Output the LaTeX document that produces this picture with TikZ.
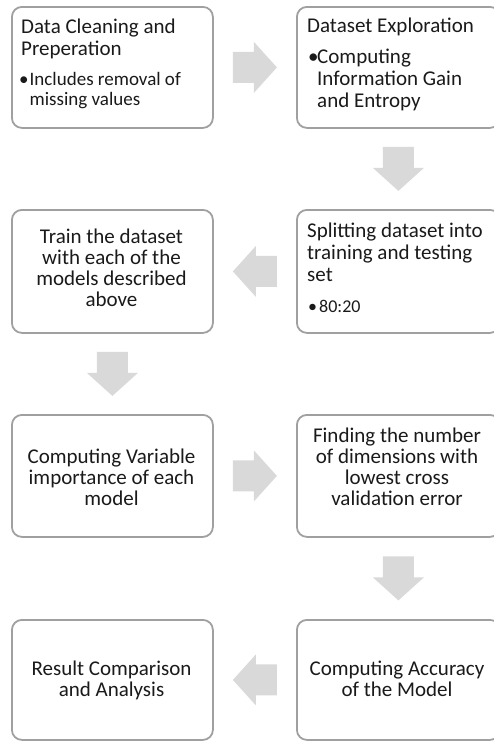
\documentclass[tikz,border=0pt]{standalone}
\usepackage{fontspec}
\setmainfont{Carlito}
\usetikzlibrary{calc}
\definecolor{boxline}{HTML}{A0A0A0}
\definecolor{arrowfill}{HTML}{D9D9D9}
\definecolor{txtcol}{HTML}{1A1A1A}
\newcommand\fmain{\fontsize{21}{21}\selectfont}
\newcommand\fleft{\fontsize{21}{22}\selectfont}
\newcommand\fsmall{\fontsize{19}{18}\selectfont}
\newcommand\fmid{\fontsize{18}{18}\selectfont}
\newcommand\blkarrow[2]{\fill[arrowfill,shift={(#1)},rotate=#2] (-22,-15.5) -- (-1,-15.5) -- (-1,-25.5) -- (22,0) -- (-1,25.5) -- (-1,15.5) -- (-22,15.5) -- cycle;}
\tikzset{
  box/.style={draw=boxline, line width=1.8pt, rounded corners=10pt, fill=white,
    anchor=north west, inner sep=0pt, minimum width=#1, minimum height=121pt},
  box/.default=201pt,
  ltxt/.style={anchor=north west, inner sep=0pt, align=left, text=txtcol, font=\fleft},
  ctxt/.style={anchor=north, inner sep=0pt, align=center, text=txtcol, font=\fmain}
}
\begin{document}
\begin{tikzpicture}[x=1pt,y=-1pt]
\useasboundingbox (0,0) rectangle (493,742);
% boxes
\node[box] (b1) at (11,6) {};
\node[box=203pt] (b2) at (296,6) {};
\node[box, minimum height=123pt] (b3) at (11,209) {};
\node[box=203pt, minimum height=123pt] (b4) at (296,209) {};
\node[box, minimum height=122pt] (b5) at (11,414) {};
\node[box=203pt, minimum height=122pt] (b6) at (296,414) {};
\node[box, minimum height=120pt] (b7) at (11,619) {};
\node[box=203pt, minimum height=120pt] (b8) at (296,619) {};
% texts
\node[ltxt] (t1) at (21,{33-15.4}) {\strut Data Cleaning and\\Preperation};
\node[ltxt, font=\fsmall] (t1b) at (19,{85-12.6}) {\strut\makebox[10.5pt][l]{\textbullet}Includes removal of\\\hspace*{10.5pt}missing values};
\node[ltxt] (t2) at (307,{32-15.4}) {\strut Dataset Exploration};
\node[ltxt] (t2b) at (308,{63-15.4}) {\strut\makebox[9pt][l]{\textbullet}Computing\\\hspace*{9pt}Information Gain\\\hspace*{9pt}and Entropy};
\node[ctxt] (t3) at (111.5,{243-14.7}) {\strut Train the dataset\\with each of the\\models described\\above};
\node[ltxt] (t4) at (307,{237-15.4}) {\strut Splitting dataset into\\training and testing\\set};
\node[ltxt, font=\fmid] (t4b) at (308,{312-12.6}) {\strut\makebox[11pt][l]{\textbullet}80:20};
\node[ctxt] (t5) at (111.5,{463-14.7}) {\strut Computing Variable\\importance of each\\model};
\node[ctxt] (t6) at (397,{442-14.7}) {\strut Finding the number\\of dimensions with\\lowest cross\\validation error};
\node[ctxt] (t7) at (111.5,{675-14.7}) {\strut Result Comparison\\and Analysis};
\node[ctxt] (t8) at (397,{675-14.7}) {\strut Computing Accuracy\\of the Model};
% block arrows
\coordinate (a1) at ($(b1.east)!0.5!(b2.west)$);
\coordinate (a2) at ($(b2.south)!0.5!(b4.north)$);
\coordinate (a3) at ($(b4.west)!0.5!(b3.east)$);
\coordinate (a4) at ($(b3.south)!0.5!(b5.north)$);
\coordinate (a5) at ($(b5.east)!0.5!(b6.west)$);
\coordinate (a6) at ($(b6.south)!0.5!(b8.north)$);
\coordinate (a7) at ($(b8.west)!0.5!(b7.east)$);
\blkarrow{a1}{0}
\blkarrow{a2}{-90}
\blkarrow{a3}{180}
\blkarrow{a4}{-90}
\blkarrow{a5}{0}
\blkarrow{a6}{-90}
\blkarrow{a7}{180}
\end{tikzpicture}
\end{document}
